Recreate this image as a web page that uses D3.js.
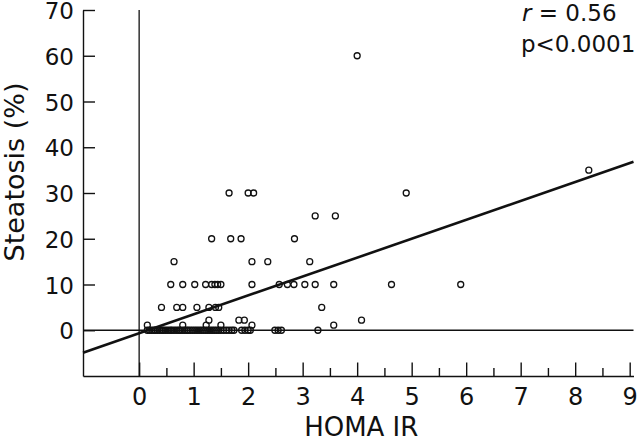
<!DOCTYPE html>
<html>
<head>
<meta charset="utf-8">
<script src="https://cdn.jsdelivr.net/npm/d3@7"></script>
<style>
  body { margin: 0; background: #fff; }
  svg text { font-family: "DejaVu Sans", sans-serif; fill: #111; }
</style>
</head>
<body>
<div class="view"></div>
<script>
// HOMA IR vs steatosis
const homaIR = [
  4.0,
  8.25,
  1.65, 2.0, 2.1, 4.9,
  3.23, 3.6,
  1.33, 1.68, 1.87, 2.85,
  0.64, 2.07, 2.36, 3.13,
  0.58, 0.8, 1.02, 1.22, 1.33, 1.39, 1.44, 1.5, 2.07, 2.57, 2.72, 2.84, 3.04, 3.23, 3.57, 4.63, 5.9,
  0.41, 0.69, 0.8, 1.06, 1.28, 1.4, 1.46, 3.35,
  1.28, 1.83, 1.93, 4.08,
  0.15, 0.8, 1.23, 1.5, 2.07, 3.57,
  0.15, 0.19, 0.23, 0.27, 0.3, 0.34, 0.38, 0.42, 0.45, 0.49, 0.53, 0.57, 0.6, 0.64,
  0.68, 0.72, 0.75, 0.79, 0.83, 0.87, 0.9, 0.94, 0.98, 1.02, 1.06, 1.1, 1.14, 1.18,
  1.22, 1.26, 1.3, 1.34, 1.38, 1.42, 1.46, 1.5, 1.55, 1.6, 1.65, 1.7, 1.74,
  1.88, 1.94, 2.0, 2.04, 2.49, 2.55, 2.61, 3.28
];
const steatosis = [
  60,
  35,
  30, 30, 30, 30,
  25, 25,
  20, 20, 20, 20,
  15, 15, 15, 15,
  10, 10, 10, 10, 10, 10, 10, 10, 10, 10, 10, 10, 10, 10, 10, 10, 10,
  5, 5, 5, 5, 5, 5, 5, 5,
  2.2, 2.2, 2.2, 2.2,
  1.1, 1.1, 1.1, 1.1, 1.1, 1.1,
  0, 0, 0, 0, 0, 0, 0, 0, 0, 0, 0, 0, 0, 0,
  0, 0, 0, 0, 0, 0, 0, 0, 0, 0, 0, 0, 0, 0,
  0, 0, 0, 0, 0, 0, 0, 0, 0, 0, 0, 0, 0,
  0, 0, 0, 0, 0, 0, 0, 0
];

const xTicks = [0, 1, 2, 3, 4, 5, 6, 7, 8, 9];
const xMinorTicks = [0.5, 1.5, 2.5, 3.5, 4.5, 5.5, 6.5, 7.5, 8.5];
const yTicks = [0, 10, 20, 30, 40, 50, 60, 70];

// regression line
const fitIntercept = -0.65;
const fitSlope = 4.13;
const statLabels = ["0.56", "p<0.0001"];

const width = 640, height = 441;
const xDomain = [-1.03, 9.07];
const yDomain = [-10, 70];

let svg = d3.select(".view").append("svg")
    .attr("width", width)
    .attr("height", height);

let x = d3.scaleLinear().domain(xDomain).range([83, 633.5]);
let y = d3.scaleLinear().domain(yDomain).range([376, 10]);

// y axis, ticks pointing into the plot
let yAxis = svg.append("g")
    .attr("transform", `translate(${x(xDomain[0])},0)`)
    .call(d3.axisLeft(y).tickValues(yTicks).tickSizeInner(-12).tickSizeOuter(0).tickPadding(9));

// x axis, major and minor ticks pointing up
let xAxis = svg.append("g")
    .attr("transform", `translate(0,${y(yDomain[0])})`)
    .call(d3.axisBottom(x).tickValues(xTicks).tickSizeInner(-13.5).tickSizeOuter(0).tickPadding(12));

svg.append("g")
    .attr("transform", `translate(0,${y(yDomain[0])})`)
    .call(d3.axisBottom(x).tickValues(xMinorTicks).tickSizeInner(-8).tickSizeOuter(0).tickFormat(""))
    .select(".domain").remove();

svg.selectAll(".domain, .tick line")
    .attr("stroke", "#111")
    .attr("stroke-width", 1.4);
yAxis.selectAll("text").attr("font-size", 23).attr("dy", "0.37em");
xAxis.selectAll("text").attr("font-size", 24);

// reference lines at x = 0 and y = 0
svg.append("line")
    .attr("x1", x(0)).attr("x2", x(0))
    .attr("y1", y(yDomain[1])).attr("y2", y(yDomain[0]))
    .attr("stroke", "#111").attr("stroke-width", 1.3);
svg.append("line")
    .attr("x1", x(xDomain[0])).attr("x2", x(xDomain[1]))
    .attr("y1", y(0)).attr("y2", y(0))
    .attr("stroke", "#111").attr("stroke-width", 1.3);

// scatter points
svg.append("g").selectAll("circle")
    .data(homaIR.map((d, i) => [d, steatosis[i]]))
    .join("circle")
    .attr("cx", d => x(d[0]))
    .attr("cy", d => y(d[1]))
    .attr("r", 3)
    .attr("fill", "none")
    .attr("stroke", "#111")
    .attr("stroke-width", 1.3);

// fitted line
svg.append("line")
    .attr("x1", x(xDomain[0])).attr("y1", y(fitIntercept + fitSlope * xDomain[0]))
    .attr("x2", x(xDomain[1])).attr("y2", y(fitIntercept + fitSlope * xDomain[1]))
    .attr("stroke", "#111")
    .attr("stroke-width", 2.6);

// axis titles
svg.append("text")
    .attr("x", (x(xDomain[0]) + x(xDomain[1])) / 2 + 3)
    .attr("y", 436)
    .attr("text-anchor", "middle")
    .attr("font-size", 26)
    .text("HOMA IR");

svg.append("text")
    .attr("transform", "translate(24,172) rotate(-90)")
    .attr("text-anchor", "middle")
    .attr("font-size", 27)
    .text("Steatosis (%)");

// stats
let rText = svg.append("text")
    .attr("x", 522)
    .attr("y", 21)
    .attr("font-size", 23);
rText.append("tspan").attr("font-style", "italic").text("r");
rText.append("tspan").text(" = " + statLabels[0]);

svg.append("text")
    .attr("x", 521)
    .attr("y", 52)
    .attr("font-size", 23)
    .text(statLabels[1]);
</script>
</body>
</html>
